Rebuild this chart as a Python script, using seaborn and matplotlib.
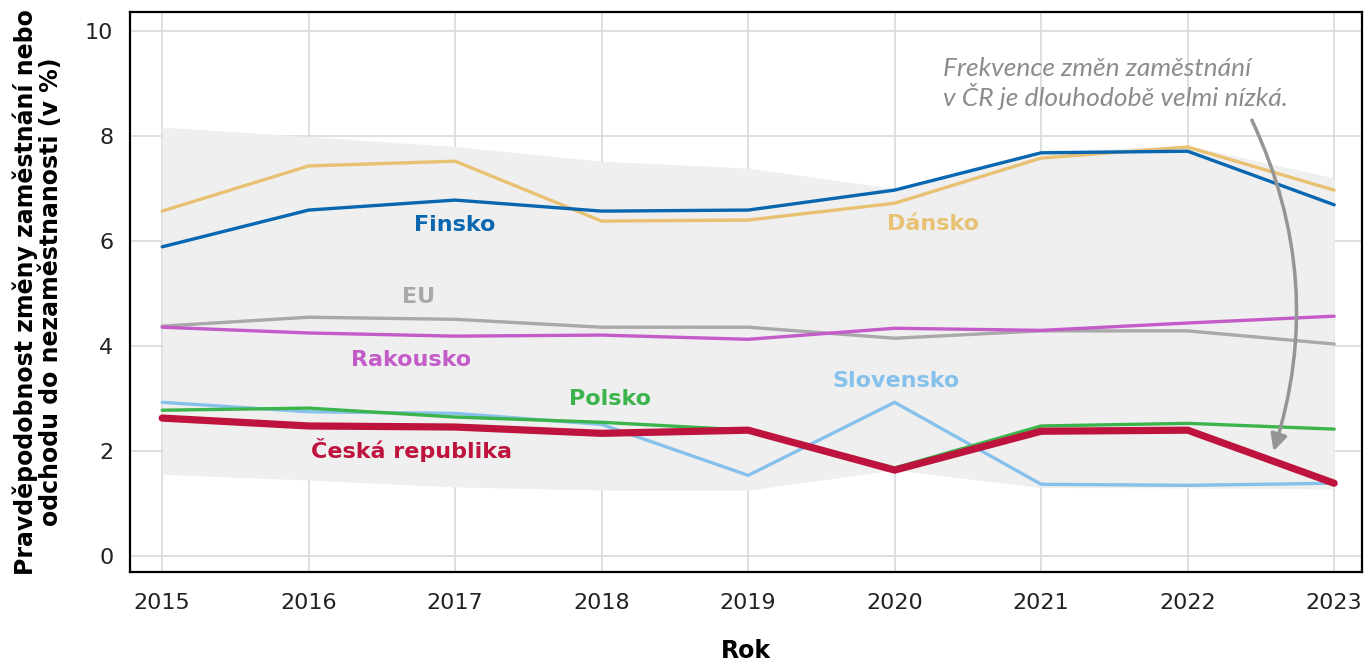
import pandas as pd
import matplotlib
matplotlib.use("Agg")
import matplotlib.pyplot as plt
import seaborn as sns
from matplotlib.patches import FancyArrowPatch

# --- data ---
years = [2015, 2016, 2017, 2018, 2019, 2020, 2021, 2022, 2023]
dansko = [6.57, 7.43, 7.52, 6.38, 6.40, 6.72, 7.58, 7.79, 6.97]
finsko = [5.89, 6.59, 6.78, 6.57, 6.59, 6.97, 7.68, 7.71, 6.69]
eu = [4.38, 4.55, 4.51, 4.36, 4.36, 4.15, 4.29, 4.29, 4.04]
rakousko = [4.36, 4.25, 4.19, 4.21, 4.13, 4.34, 4.30, 4.44, 4.57]
slovensko = [2.93, 2.75, 2.72, 2.51, 1.54, 2.93, 1.37, 1.35, 1.39]
polsko = [2.78, 2.82, 2.65, 2.55, 2.40, 1.68, 2.48, 2.53, 2.42]
cesko = [2.63, 2.48, 2.46, 2.34, 2.40, 1.64, 2.38, 2.40, 1.39]
band_hi = [8.17, 7.99, 7.80, 7.52, 7.39, 7.00, 7.70, 7.82, 7.20]
band_lo = [1.56, 1.45, 1.32, 1.26, 1.26, 1.64, 1.31, 1.30, 1.28]

series_names = ["EU", "Dánsko", "Finsko", "Rakousko", "Slovensko", "Polsko", "Česká republika"]
series_values = [eu, dansko, finsko, rakousko, slovensko, polsko, cesko]

colors = {
    "Dánsko": "#e8c172",
    "Finsko": "#0867b0",
    "EU": "#a9a9a9",
    "Rakousko": "#c35bc9",
    "Slovensko": "#86c1ec",
    "Polsko": "#3cb44c",
    "Česká republika": "#bd133d",
}

# label anchors (x in years, y in %)
label_pos = {
    "Finsko": (2017.0, 6.3),
    "Dánsko": (2020.26, 6.32),
    "EU": (2016.75, 4.93),
    "Rakousko": (2016.7, 3.73),
    "Polsko": (2018.06, 3.0),
    "Slovensko": (2020.01, 3.33),
    "Česká republika": (2016.7, 2.02),
}

df = pd.DataFrame(
    [(y, name, v) for name, vals in zip(series_names, series_values) for y, v in zip(years, vals)],
    columns=["Rok", "Země", "Hodnota"],
)

sns.set_theme(style="whitegrid")
plt.rcParams["font.family"] = ["DejaVu Sans"]

fig = plt.figure(figsize=(13.65, 6.67), dpi=100)
ax = fig.add_axes([0.0952, 0.1424, 0.9026, 0.8396])

# min-max range of countries
ax.fill_between(years, band_lo, band_hi, color="#efefef", lw=0, zorder=1)

widths = {name: 2.4 for name in series_names}
widths["Česká republika"] = 5.2
for name in series_names:
    sub = df[df["Země"] == name]
    sns.lineplot(data=sub, x="Rok", y="Hodnota", color=colors[name],
                 lw=widths[name], ax=ax, zorder=3, legend=False)

for name, (x, y) in label_pos.items():
    ax.text(x, y, name, color=colors[name], fontsize=16, fontweight="bold",
            ha="center", va="center", zorder=4)

ax.text(2020.33, 9.0, "Frekvence změn zaměstnání\nv ČR je dlouhodobě velmi nízká.",
        color="#8c8c8c", fontsize=19, style="italic", ha="left", va="center",
        family=["Lato", "DejaVu Sans"], linespacing=1.15, zorder=4)
arrow = FancyArrowPatch((2022.43, 8.35), (2022.58, 1.95),
                        connectionstyle="arc3,rad=-0.2", arrowstyle="-|>,head_length=10,head_width=5",
                        color="#959595", lw=2.5, zorder=5)
ax.add_patch(arrow)

ax.set_xlim(2014.78, 2023.19)
ax.set_ylim(-0.3, 10.36)
ax.set_xticks(years)
ax.set_yticks([0, 2, 4, 6, 8, 10])
ax.grid(True, color="#d9d9d9", lw=1.2)
ax.set_facecolor("white")
for sp in ax.spines.values():
    sp.set_color("black")
    sp.set_linewidth(1.6)
ax.tick_params(axis="both", labelsize=16, colors="#222222", length=0, pad=12)
ax.tick_params(axis="x", pad=15)

ax.set_xlabel("Rok", fontsize=17, fontweight="bold", color="black", labelpad=19)
ax.set_ylabel("Pravděpodobnost změny zaměstnání nebo\nodchodu do nezaměstnanosti (v %)",
              fontsize=17, fontweight="bold", color="black", labelpad=16, linespacing=1.05)

fig.savefig("out.png", dpi=100)
